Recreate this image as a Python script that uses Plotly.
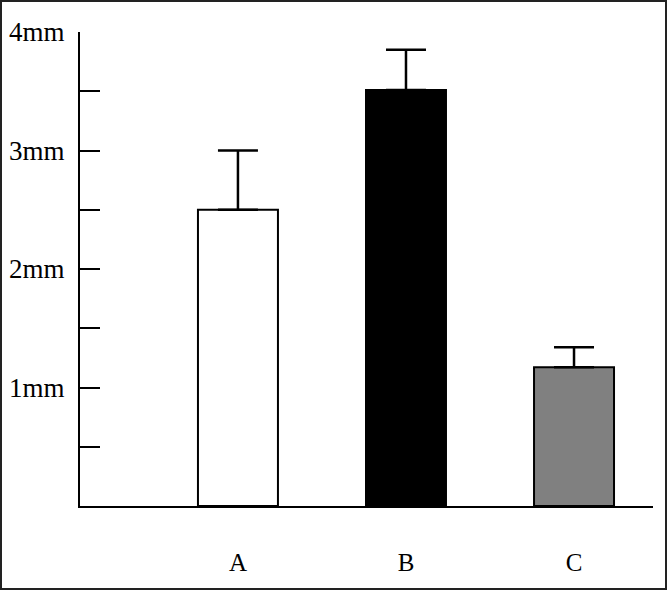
import plotly.graph_objects as go

# data
groups = ["A", "B", "C"]
values = [2.5, 3.51, 1.17]
errors = [0.5, 0.34, 0.17]
colors = ["white", "black", "#808080"]

tick_vals = [0, 0.5, 1, 1.5, 2, 2.5, 3, 3.5, 4]
tick_text = ["", "", "1mm", "", "2mm", "", "3mm", "", "4mm"]

fig = go.Figure()
fig.add_trace(go.Bar(
    x=groups, y=values,
    marker=dict(color=colors, line=dict(color="black", width=2)),
    error_y=dict(type="data", array=errors, symmetric=False, arrayminus=[0, 0, 0],
                 color="black", thickness=2.5, width=20),
))

W, H = 668, 591
ml, mr, mt, mb = 80, 15, 32, 85
pw, ph = W - ml - mr, H - mt - mb

fig.update_layout(
    width=W, height=H,
    margin=dict(l=ml, r=mr, t=mt, b=mb),
    paper_bgcolor="white", plot_bgcolor="white",
    showlegend=False,
    bargap=0.524,
    font=dict(family="Liberation Serif, Times New Roman, serif", size=24, color="black"),
    xaxis=dict(range=[-0.94, 2.47], showline=True, linecolor="black", linewidth=2,
               ticks="", ticklabelstandoff=33, showgrid=False, zeroline=False,
               automargin=False, tickfont=dict(size=25)),
    yaxis=dict(range=[0, 4], showline=True, linecolor="black", linewidth=2,
               tickmode="array", tickvals=tick_vals, ticktext=tick_text,
               ticks="inside", ticklen=20, tickwidth=2, tickcolor="black",
               ticklabelstandoff=8, showgrid=False, zeroline=False,
               automargin=False, tickfont=dict(size=27)),
)

# frame around the whole picture
fig.add_shape(type="rect", xref="paper", yref="paper",
              x0=-(ml - 1) / pw, x1=(W - ml - 2) / pw,
              y0=-(mb - 2) / ph, y1=(ph + mt - 1) / ph,
              line=dict(color="#222", width=2), layer="above")

fig.write_html("out.html", config={"displayModeBar": False},
               post_script="document.body.style.margin='0';")
